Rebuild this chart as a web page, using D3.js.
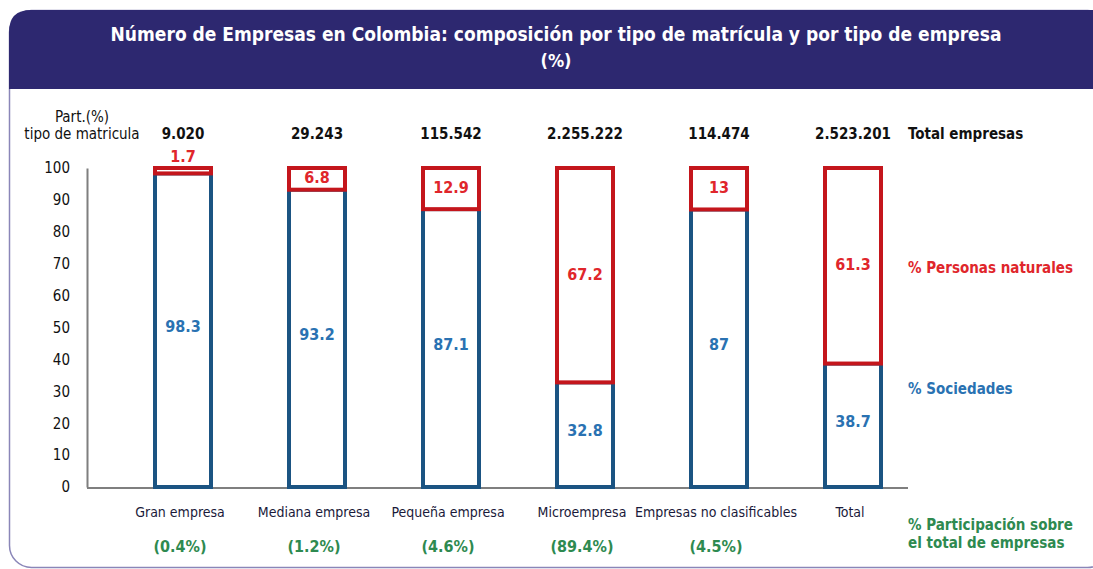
<!DOCTYPE html>
<html>
<head>
<meta charset="utf-8">
<script src="https://cdn.jsdelivr.net/npm/d3@7"></script>
<style>
  body { margin: 0; background: #fff; }
  svg text { font-family: "DejaVu Sans Condensed", "DejaVu Sans", sans-serif; font-stretch: condensed; }
</style>
</head>
<body>
<div id="graphContainer"></div>
<script>
"use strict";
// chart values
const categories = ["Gran empresa", "Mediana empresa", "Pequeña empresa", "Microempresa", "Empresas no clasificables", "Total"]
const sociedades = [98.3, 93.2, 87.1, 32.8, 87, 38.7]
const personas = [1.7, 6.8, 12.9, 67.2, 13, 61.3]
const totalEmpresas = ["9.020", "29.243", "115.542", "2.255.222", "114.474", "2.523.201"]
const participacion = ["(0.4%)", "(1.2%)", "(4.6%)", "(89.4%)", "(4.5%)", ""]
const yTicks = [0, 10, 20, 30, 40, 50, 60, 70, 80, 90, 100]

const colors = {
    band: "#2d2870",
    frame: "#8a86b8",
    blueLine: "#1b5482",
    blueText: "#2a72b2",
    redLine: "#c4161c",
    redText: "#e0262b",
    green: "#2e8a50",
    axis: "#7f7f7f"
}

const W = 1093, H = 569
const svg = d3.select("#graphContainer").append("svg")
    .attr("width", W)
    .attr("height", H)

// card frame + title band
svg.append("rect")
    .attr("x", 9.5).attr("y", 10.5)
    .attr("width", 1100).attr("height", 557)
    .attr("rx", 22).attr("ry", 22)
    .attr("fill", "#fff")
    .attr("stroke", colors.frame)
    .attr("stroke-width", 1.5)

svg.append("path")
    .attr("d", "M9,89 L9,32 Q9,10 31,10 L1093,10 L1093,89 Z")
    .attr("fill", colors.band)

svg.append("text")
    .attr("x", 556).attr("y", 41)
    .attr("text-anchor", "middle")
    .attr("fill", "#fff")
    .attr("font-weight", "bold")
    .attr("font-size", 19)
    .text("Número de Empresas en Colombia: composición por tipo de matrícula y por tipo de empresa")

svg.append("text")
    .attr("x", 556).attr("y", 67)
    .attr("text-anchor", "middle")
    .attr("fill", "#fff")
    .attr("font-weight", "bold")
    .attr("font-size", 18)
    .text("(%)")

// scales
const scaleX = d3.scalePoint()
    .domain(categories)
    .range([183, 853])
const scaleY = d3.scaleLinear()
    .domain([0, 100])
    .range([487, 168])
const barW = 56

// y axis: line + labels only
const yAxis = d3.axisLeft(scaleY)
    .tickValues(yTicks)
    .tickSize(0)
    .tickPadding(17)
const gy = svg.append("g")
    .attr("transform", "translate(87,0)")
    .call(yAxis)
gy.select(".domain").attr("stroke", colors.axis).attr("stroke-width", 2)
gy.selectAll("text")
    .attr("font-size", 15)
    .attr("fill", "#111")
    .style("font-family", "DejaVu Sans Condensed, DejaVu Sans, sans-serif")

// baseline
svg.append("line")
    .attr("x1", 87).attr("x2", 908)
    .attr("y1", scaleY(0) + 1).attr("y2", scaleY(0) + 1)
    .attr("stroke", colors.axis)
    .attr("stroke-width", 2)

// axis title
svg.append("text")
    .attr("x", 82).attr("y", 122)
    .attr("text-anchor", "middle")
    .attr("font-size", 15)
    .attr("fill", "#111")
    .text("Part.(%)")
svg.append("text")
    .attr("x", 82).attr("y", 139)
    .attr("text-anchor", "middle")
    .attr("font-size", 15)
    .attr("fill", "#111")
    .text("tipo de matricula")

const rows = categories.map((c, i) => ({
    cat: c, soc: sociedades[i], per: personas[i],
    total: totalEmpresas[i], part: participacion[i]
}))

const bars = svg.selectAll(".bar")
    .data(rows)
    .enter()
    .append("g")
    .attr("class", "bar")

// sociedades segment
bars.append("rect")
    .attr("x", d => scaleX(d.cat) - barW / 2)
    .attr("y", d => scaleY(d.soc))
    .attr("width", barW)
    .attr("height", d => scaleY(0) - scaleY(d.soc))
    .attr("fill", "#fff")
    .attr("stroke", colors.blueLine)
    .attr("stroke-width", 4)

// personas naturales segment
bars.append("rect")
    .attr("x", d => scaleX(d.cat) - barW / 2)
    .attr("y", d => scaleY(d.soc + d.per))
    .attr("width", barW)
    .attr("height", d => scaleY(d.soc) - scaleY(d.soc + d.per))
    .attr("fill", "#fff")
    .attr("stroke", colors.redLine)
    .attr("stroke-width", 4)

// value labels
bars.append("text")
    .attr("x", d => scaleX(d.cat))
    .attr("y", d => scaleY(d.soc / 2) - 4)
    .attr("dy", "0.35em")
    .attr("text-anchor", "middle")
    .attr("font-size", 16)
    .attr("font-weight", "bold")
    .attr("fill", colors.blueText)
    .text(d => d.soc)

bars.append("text")
    .attr("x", d => scaleX(d.cat))
    .attr("y", d => {
        const h = scaleY(d.soc) - scaleY(100)
        return h < 15 ? scaleY(100) - 12 : scaleY(d.soc + d.per / 2) - 1
    })
    .attr("dy", "0.35em")
    .attr("text-anchor", "middle")
    .attr("font-size", 16)
    .attr("font-weight", "bold")
    .attr("fill", colors.redText)
    .text(d => d.per)

// totals on top
bars.append("text")
    .attr("x", d => scaleX(d.cat))
    .attr("y", 139)
    .attr("text-anchor", "middle")
    .attr("font-size", 15)
    .attr("font-weight", "bold")
    .attr("fill", "#111")
    .text(d => d.total)

// category labels
bars.append("text")
    .attr("x", d => scaleX(d.cat) - 3)
    .attr("y", 517)
    .attr("text-anchor", "middle")
    .attr("font-size", 14)
    .attr("fill", "#1a1a3a")
    .text(d => d.cat)

bars.append("text")
    .attr("x", d => scaleX(d.cat) - 3)
    .attr("y", 552)
    .attr("text-anchor", "middle")
    .attr("font-size", 16)
    .attr("font-weight", "bold")
    .attr("fill", colors.green)
    .text(d => d.part)

// right side legend text
const side = [
    { t: "Total empresas", y: 139, c: "#111" },
    { t: "% Personas naturales", y: 273, c: colors.redText },
    { t: "% Sociedades", y: 394, c: colors.blueText },
    { t: "% Participación sobre", y: 530, c: colors.green },
    { t: "el total de empresas", y: 548, c: colors.green }
]
svg.selectAll(".side")
    .data(side)
    .enter()
    .append("text")
    .attr("class", "side")
    .attr("x", 908)
    .attr("y", d => d.y)
    .attr("font-size", 15)
    .attr("font-weight", "bold")
    .attr("fill", d => d.c)
    .text(d => d.t)
</script>
</body>
</html>
